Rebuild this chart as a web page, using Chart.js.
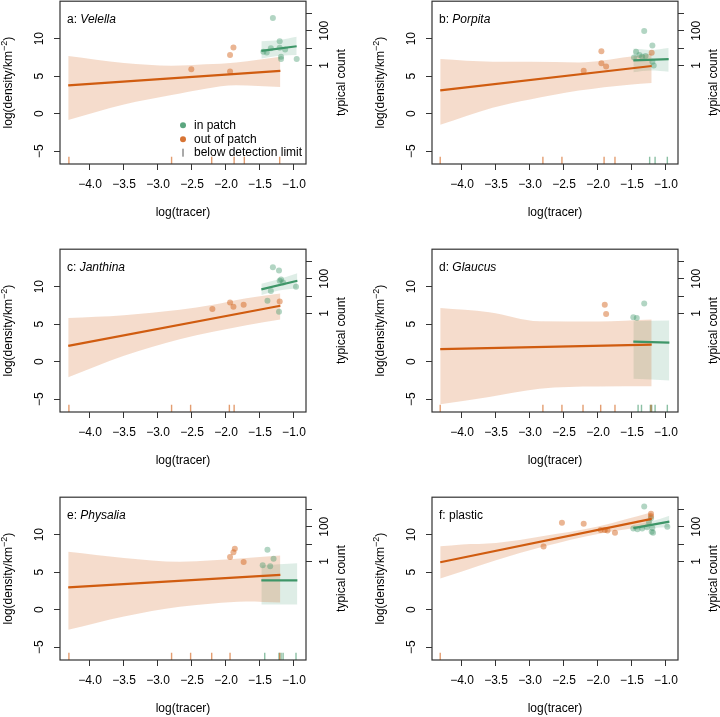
<!DOCTYPE html>
<html>
<head>
<meta charset="utf-8">
<script src="https://cdn.jsdelivr.net/npm/chart.js@4.4.1/dist/chart.umd.min.js"></script>
<style>
  html, body { margin: 0; padding: 0; background: #fff; overflow: hidden; }
  body { width: 720px; height: 717px; position: relative; }
  canvas { position: absolute; }
</style>
</head>
<body>
<script>
const xTicks = [-4.0, -3.5, -3.0, -2.5, -2.0, -1.5, -1.0];
const xTickLabels = ['−4.0', '−3.5', '−3.0', '−2.5', '−2.0', '−1.5', '−1.0'];
const yTicks = [-5, 0, 5, 10];
const yTickLabels = ['−5', '0', '5', '10'];
// log(density) of a typical count of 1, 10, 100, 1000
const countTicks = [6.45, 8.75, 11.06, 13.36];
const countLabels = ['1', '', '100', ''];
const rugY = -6.22;

const panelLetters = ['a', 'b', 'c', 'd', 'e', 'f'];
const panelNames = ['Velella', 'Porpita', 'Janthina', 'Glaucus', 'Physalia', 'plastic'];

// a: Velella  (bands are [x, lower, upper])
const inPatchA = [[-1.31, 12.76], [-1.21, 9.66], [-1.45, 8.25], [-1.40, 8.16], [-1.34, 8.73], [-1.21, 8.78], [-1.13, 8.55], [-1.19, 7.60], [-1.19, 7.29], [-0.96, 7.29]];
const outPatchA = [[-2.51, 5.92], [-1.94, 7.82], [-1.89, 8.82], [-1.94, 5.62]];
const outLineA = [[-4.32, 3.77], [-1.20, 5.70]];
const inLineA = [[-1.48, 8.38], [-0.96, 8.99]];
const outBandA = [[-4.32, -0.83, 7.68], [-3.5, 1.23, 6.75], [-2.8, 2.5, 6.4], [-2.3, 3.34, 6.58], [-1.85, 3.78, 6.84], [-1.20, 3.55, 7.59]];
const inBandA = [[-1.48, 7.37, 9.66], [-1.21, 7.72, 9.83], [-0.96, 7.82, 10.26]];
const outRugA = [-4.31, -2.80, -2.21, -1.88, -1.73, -1.21];
const inRugA = [];

// b: Porpita
const inPatchB = [[-1.32, 11.01], [-1.20, 9.08], [-1.44, 8.25], [-1.39, 7.82], [-1.35, 7.60], [-1.47, 7.50], [-1.20, 6.93], [-1.18, 6.41], [-1.30, 7.70]];
const outPatchB = [[-1.95, 8.34], [-1.95, 6.71], [-1.88, 6.28], [-2.21, 5.71], [-1.21, 8.12]];
const outLineB = [[-4.32, 3.11], [-1.21, 6.36]];
const inLineB = [[-1.48, 7.10], [-0.96, 7.28]];
const outBandB = [[-4.32, -1.49, 7.28], [-3.55, 0.79, 6.93], [-3.0, 1.89, 6.93], [-2.28, 3.08, 6.84], [-1.54, 3.87, 7.59], [-1.21, 4.08, 8.03]];
const inBandB = [[-1.48, 5.53, 8.68], [-1.22, 5.75, 8.5], [-0.96, 5.6, 8.77]];
const outRugB = [-4.32, -2.81, -2.53, -1.91, -1.75];
const inRugB = [-1.24, -1.16, -0.98];

// c: Janthina
const inPatchC = [[-1.31, 12.59], [-1.22, 12.15], [-1.19, 10.96], [-1.16, 10.57], [-1.21, 10.80], [-0.97, 10.0], [-1.34, 9.43], [-1.39, 8.12], [-1.22, 6.67]];
const outPatchC = [[-2.20, 7.01], [-1.94, 7.89], [-1.89, 7.32], [-1.74, 7.59], [-1.21, 8.03]];
const outLineC = [[-4.32, 2.11], [-1.20, 7.46]];
const inLineC = [[-1.48, 9.65], [-0.95, 10.79]];
const outBandC = [[-4.32, -2.06, 5.83], [-3.5, 0.8, 6.2], [-2.68, 2.99, 6.93], [-2.19, 3.99, 7.59], [-1.70, 4.87, 8.46], [-1.20, 5.62, 9.1]];
const inBandC = [[-1.48, 8.9, 10.4], [-1.22, 9.5, 11.0], [-0.95, 9.8, 11.8]];
const outRugC = [-4.31, -2.80, -2.52, -1.95, -1.88];
const inRugC = [];

// d: Glaucus
const inPatchD = [[-1.32, 7.76], [-1.48, 5.92], [-1.43, 5.83]];
const outPatchD = [[-1.90, 7.59], [-1.88, 6.36]];
const outLineD = [[-4.32, 1.67], [-1.21, 2.28]];
const inLineD = [[-1.48, 2.68], [-0.95, 2.54]];
const outBandD = [[-4.32, -5.66, 7.15], [-3.6, -4.7, 6.6], [-2.86, -3.6, 5.39], [-2.0, -3.3, 5.35], [-1.21, -3.29, 5.61]];
const inBandD = [[-1.48, -2.28, 5.39], [-0.95, -2.5, 5.48]];
const outRugD = [-4.32, -2.81, -2.53, -2.22, -1.96, -1.75, -1.22];
const inRugD = [-1.41, -1.36, -1.23, -1.21, -1.16, -0.98];

// e: Physalia
const inPatchE = [[-1.39, 7.99], [-1.30, 6.80], [-1.46, 5.92], [-1.35, 5.79]];
const outPatchE = [[-1.87, 8.12], [-1.89, 7.67], [-1.94, 7.01], [-1.74, 6.36]];
const outLineE = [[-4.32, 2.98], [-1.20, 4.65]];
const inLineE = [[-1.48, 3.90], [-0.95, 3.90]];
const outBandE = [[-4.32, -2.68, 7.72], [-3.5, -0.9, 6.9], [-2.68, 0.39, 6.4], [-2.19, 0.83, 6.6], [-1.70, 1.1, 6.9], [-1.20, 0.96, 7.24]];
const inBandE = [[-1.48, 0.7, 5.88], [-0.95, 0.7, 6.18]];
const outRugE = [-4.31, -2.80, -2.52, -2.21, -1.94, -1.21];
const inRugE = [-1.43, -1.22, -1.19, -1.16, -0.97];

// f: plastic
const inPatchF = [[-1.32, 13.77], [-1.48, 10.83], [-1.42, 10.74], [-1.35, 10.83], [-1.28, 11.0], [-1.21, 10.39], [-1.20, 10.88], [-1.19, 10.25], [-0.98, 11.05], [-1.25, 11.7], [-1.22, 12.2]];
const outPatchF = [[-2.53, 11.58], [-2.21, 11.45], [-2.80, 8.42], [-1.96, 10.61], [-1.90, 10.61], [-1.86, 10.55], [-1.75, 10.26], [-1.22, 12.80], [-1.22, 12.46]];
const outLineF = [[-4.32, 6.32], [-1.21, 12.1]];
const inLineF = [[-1.48, 10.88], [-0.95, 11.75]];
const outBandF = [[-4.32, 4.15, 8.45], [-4.0, 5.1, 8.7], [-3.5, 6.6, 8.9], [-2.8, 8.42, 9.83], [-2.0, 10.1, 11.1], [-1.21, 11.23, 12.98]];
const inBandF = [[-1.48, 10.57, 11.3], [-1.21, 10.9, 11.8], [-0.95, 11.0, 12.54]];
const outRugF = [-4.32];
const inRugF = [];

const ORANGE = 'rgb(208, 92, 16)';
const GREEN = 'rgb(62, 150, 104)';
const FONT = '"Liberation Sans", Arial, sans-serif';

Chart.defaults.font.family = FONT;
Chart.defaults.font.size = 12;
Chart.defaults.color = '#000';

const panels = [
    {inPts: inPatchA, outPts: outPatchA, outLine: outLineA, inLine: inLineA, outBand: outBandA, inBand: inBandA, outRug: outRugA, inRug: inRugA},
    {inPts: inPatchB, outPts: outPatchB, outLine: outLineB, inLine: inLineB, outBand: outBandB, inBand: inBandB, outRug: outRugB, inRug: inRugB},
    {inPts: inPatchC, outPts: outPatchC, outLine: outLineC, inLine: inLineC, outBand: outBandC, inBand: inBandC, outRug: outRugC, inRug: inRugC},
    {inPts: inPatchD, outPts: outPatchD, outLine: outLineD, inLine: inLineD, outBand: outBandD, inBand: inBandD, outRug: outRugD, inRug: inRugD},
    {inPts: inPatchE, outPts: outPatchE, outLine: outLineE, inLine: inLineE, outBand: outBandE, inBand: inBandE, outRug: outRugE, inRug: inRugE},
    {inPts: inPatchF, outPts: outPatchF, outLine: outLineF, inLine: inLineF, outBand: outBandF, inBand: inBandF, outRug: outRugF, inRug: inRugF}
];

const colLeft = [0, 372];
const rowTop = [-13, 235, 483];

const xy = arr => arr.map(p => ({x: p[0], y: p[1]}));

const panelText = {
    id: 'panelText',
    afterDraw(chart, args, opts) {
        const {ctx, chartArea: a} = chart;
        const midY = (a.top + a.bottom) / 2;
        const font = '12px ' + FONT;
        ctx.save();
        ctx.strokeStyle = '#333';
        ctx.lineWidth = 1.2;
        ctx.strokeRect(a.left, a.top, a.right - a.left, a.bottom - a.top);

        ctx.fillStyle = '#000';
        ctx.textBaseline = 'middle';
        ctx.textAlign = 'left';
        ctx.font = font;
        const prefix = opts.letter + ': ';
        ctx.fillText(prefix, a.left + 7, a.top + 18);
        const pw = ctx.measureText(prefix).width;
        ctx.font = (opts.italic ? 'italic ' : '') + font;
        ctx.fillText(opts.name, a.left + 7 + pw, a.top + 18);

        ctx.font = font;
        ctx.textAlign = 'center';
        ctx.fillText('log(tracer)', (a.left + a.right) / 2, a.bottom + 49);

        ctx.save();
        ctx.translate(a.right + 36, midY);
        ctx.rotate(-Math.PI / 2);
        ctx.fillText('typical count', 0, 0);
        ctx.restore();

        // y title with superscript
        ctx.save();
        ctx.translate(a.left - 51, midY);
        ctx.rotate(-Math.PI / 2);
        ctx.textAlign = 'left';
        const supFont = '9px ' + FONT;
        const t1 = 'log(density/km', t2 = '−2', t3 = ')';
        ctx.font = font;
        const w1 = ctx.measureText(t1).width, w3 = ctx.measureText(t3).width;
        ctx.font = supFont;
        const w2 = ctx.measureText(t2).width;
        let x0 = -(w1 + w2 + w3) / 2;
        ctx.font = font;
        ctx.fillText(t1, x0, 0);
        ctx.font = supFont;
        ctx.fillText(t2, x0 + w1, -4);
        ctx.font = font;
        ctx.fillText(t3, x0 + w1 + w2, 0);
        ctx.restore();

        if (opts.legend) {
            const lx = a.left + 123, tx = a.left + 134;
            const rows = [a.top + 124, a.top + 138, a.top + 151.5];
            ctx.fillStyle = 'rgba(62, 150, 104, 0.85)';
            ctx.beginPath(); ctx.arc(lx, rows[0], 3, 0, Math.PI * 2); ctx.fill();
            ctx.fillStyle = 'rgba(208, 92, 16, 0.85)';
            ctx.beginPath(); ctx.arc(lx, rows[1], 3, 0, Math.PI * 2); ctx.fill();
            ctx.strokeStyle = '#555';
            ctx.lineWidth = 1;
            ctx.beginPath(); ctx.moveTo(lx, rows[2] - 4); ctx.lineTo(lx, rows[2] + 4); ctx.stroke();
            ctx.fillStyle = '#000';
            ctx.textAlign = 'left';
            ctx.font = font;
            ctx.fillText('in patch', tx, rows[0]);
            ctx.fillText('out of patch', tx, rows[1]);
            ctx.fillText('below detection limit', tx, rows[2]);
        }
        ctx.restore();
    }
};

function bandSets(band, color) {
    const base = {type: 'line', pointRadius: 0, borderWidth: 0, borderColor: 'rgba(0,0,0,0)', cubicInterpolationMode: 'monotone', order: 4};
    return [
        {...base, data: band.map(b => ({x: b[0], y: b[2]})), fill: '+1', backgroundColor: color},
        {...base, data: band.map(b => ({x: b[0], y: b[1]})), fill: false}
    ];
}

panels.forEach((p, i) => {
    const canvas = document.createElement('canvas');
    canvas.width = 348;
    canvas.height = 237;
    canvas.style.left = colLeft[i % 2] + 'px';
    canvas.style.top = rowTop[Math.floor(i / 2)] + 'px';
    document.body.appendChild(canvas);

    const tickGrid = {drawOnChartArea: false, drawTicks: true, tickLength: 6, color: '#333', lineWidth: 1};

    new Chart(canvas, {
        type: 'scatter',
        data: {
            datasets: [
                ...bandSets(p.outBand, 'rgba(208, 92, 16, 0.21)'),
                ...bandSets(p.inBand, 'rgba(62, 150, 104, 0.17)'),
                {type: 'line', data: xy(p.outLine), borderColor: ORANGE, borderWidth: 2.2, pointRadius: 0, fill: false, order: 1},
                {type: 'line', data: xy(p.inLine), borderColor: GREEN, borderWidth: 2.2, pointRadius: 0, fill: false, order: 1},
                {data: xy(p.outPts), backgroundColor: 'rgba(208, 92, 16, 0.45)', borderWidth: 0, pointRadius: 3, order: 2},
                {data: xy(p.inPts), backgroundColor: 'rgba(62, 150, 104, 0.4)', borderWidth: 0, pointRadius: 3, order: 2},
                {data: p.outRug.map(x => ({x, y: rugY})), pointStyle: 'line', rotation: 90, pointRadius: 3.6, borderColor: 'rgba(208, 92, 16, 0.6)', borderWidth: 1.4, order: 2},
                {data: p.inRug.map(x => ({x, y: rugY})), pointStyle: 'line', rotation: 90, pointRadius: 3.6, borderColor: 'rgba(62, 150, 104, 0.6)', borderWidth: 1.4, order: 2}
            ]
        },
        options: {
            responsive: false,
            animation: false,
            events: [],
            layout: {padding: {top: 12, left: 0, right: 0, bottom: 0}},
            plugins: {
                legend: {display: false},
                tooltip: {enabled: false},
                panelText: {letter: panelLetters[i], name: panelNames[i], italic: i < 5, legend: i === 0}
            },
            scales: {
                x: {
                    type: 'linear', min: -4.441, max: -0.823, bounds: 'data',
                    afterBuildTicks: s => { s.ticks = xTicks.map(v => ({value: v})); },
                    afterFit: s => { s.height = 60; },
                    ticks: {callback: (v, k) => xTickLabels[k], autoSkip: false, maxRotation: 0, padding: 7},
                    grid: tickGrid,
                    border: {display: false}
                },
                y: {
                    type: 'linear', position: 'left', min: -6.71, max: 15.0, bounds: 'data',
                    afterBuildTicks: s => { s.ticks = yTicks.map(v => ({value: v})); },
                    afterFit: s => { s.width = 60; },
                    ticks: {callback: (v, k) => yTickLabels[k], autoSkip: false, minRotation: 90, maxRotation: 90, crossAlign: 'center', padding: 7},
                    grid: tickGrid,
                    border: {display: false}
                },
                count: {
                    type: 'linear', position: 'right', min: -6.71, max: 15.0, bounds: 'data',
                    afterBuildTicks: s => { s.ticks = countTicks.map(v => ({value: v})); },
                    afterFit: s => { s.width = 42; },
                    ticks: {callback: (v, k) => countLabels[k], autoSkip: false, minRotation: 90, maxRotation: 90, crossAlign: 'center', padding: 3},
                    grid: tickGrid,
                    border: {display: false}
                }
            }
        },
        plugins: [panelText]
    });
});
</script>
</body>
</html>
